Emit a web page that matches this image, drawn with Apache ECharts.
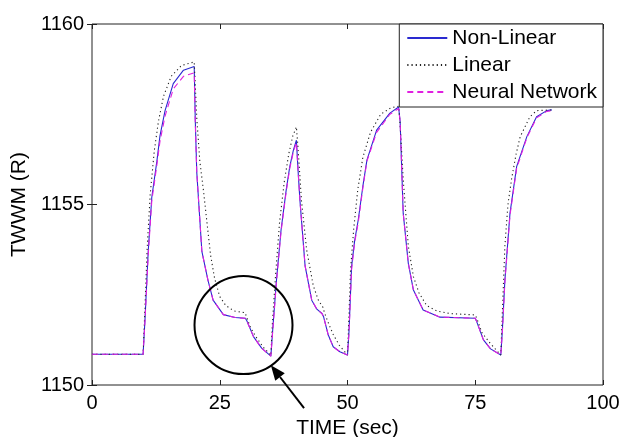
<!DOCTYPE html>
<html>
<head>
<meta charset="utf-8">
<script src="https://cdn.jsdelivr.net/npm/echarts@6/dist/echarts.min.js"></script>
<style>
html,body{margin:0;padding:0;background:#fff;}
#chart{width:624px;height:437px;}
</style>
</head>
<body>
<div id="chart"></div>
<script>
// ---- data ----
const seriesNames = ['Non-Linear', 'Linear', 'Neural Network'];
const xTicks = [0, 25, 50, 75, 100];
const yTicks = [1150, 1155, 1160];

const timeNonLinear = [0, 10, 10.4, 11.0, 11.7, 12.7, 13.3, 14.3, 15.9, 17.9, 20, 20.2, 20.5, 21.5, 22.7, 23.7, 25.7, 28, 30, 30.3, 31.6, 33.2, 35, 35.4, 36.1, 37, 38, 38.7, 39.4, 40, 40.3, 40.7, 41.7, 43.0, 44, 45, 45.3, 46.2, 47.2, 48.5, 50, 50.3, 50.8, 51.4, 52.1, 53.0, 53.8, 55.7, 58.3, 60, 60.3, 60.9, 61.9, 62.9, 64.8, 68.1, 75, 75.3, 76.6, 78, 80, 80.3, 80.8, 81.8, 83.1, 85.1, 87, 89, 90];
const nonLinear = [1150.85, 1150.85, 1151.9, 1153.7, 1155.2, 1156.2, 1156.9, 1157.6, 1158.35, 1158.72, 1158.82, 1157.4, 1155.9, 1153.7, 1152.9, 1152.35, 1151.95, 1151.87, 1151.85, 1151.78, 1151.34, 1151.02, 1150.8, 1151.6, 1152.9, 1154.3, 1155.4, 1156.05, 1156.5, 1156.78, 1156.0, 1155.1, 1153.3, 1152.35, 1152.1, 1151.98, 1151.9, 1151.4, 1151.06, 1150.92, 1150.83, 1151.5, 1153.28, 1154.0, 1154.57, 1155.5, 1156.23, 1157.06, 1157.53, 1157.7, 1157.3, 1154.76, 1153.37, 1152.63, 1152.08, 1151.88, 1151.85, 1151.75, 1151.25, 1151.0, 1150.83, 1151.5, 1152.9, 1154.76, 1156.05, 1156.88, 1157.43, 1157.6, 1157.62];

const timeNeural = timeNonLinear;
const neural = [1150.85, 1150.85, 1151.85, 1153.6, 1155.1, 1156.1, 1156.75, 1157.45, 1158.2, 1158.55, 1158.65, 1157.3, 1155.9, 1153.7, 1152.9, 1152.35, 1151.95, 1151.87, 1151.85, 1151.78, 1151.34, 1151.02, 1150.8, 1151.55, 1152.85, 1154.25, 1155.35, 1156.0, 1156.45, 1156.72, 1156.0, 1155.1, 1153.3, 1152.35, 1152.1, 1151.98, 1151.9, 1151.4, 1151.06, 1150.92, 1150.83, 1151.45, 1153.2, 1153.95, 1154.5, 1155.45, 1156.2, 1157.0, 1157.5, 1157.66, 1157.3, 1154.76, 1153.37, 1152.63, 1152.08, 1151.88, 1151.85, 1151.75, 1151.25, 1151.0, 1150.83, 1151.45, 1152.85, 1154.7, 1156.0, 1156.85, 1157.4, 1157.58, 1157.6];

const timeLinear = [0, 10, 10.3, 10.8, 11.4, 12.2, 13.0, 14.0, 15.5, 17.5, 20, 20.15, 20.5, 21.1, 21.8, 22.5, 23.2, 24.0, 25.0, 26.2, 27.8, 30, 30.2, 31.0, 32.0, 33.5, 35, 35.3, 35.9, 36.7, 37.6, 38.5, 39.3, 40, 40.3, 41.0, 42.0, 43.3, 44.3, 45.2, 45.5, 46.3, 47.2, 48.4, 50, 50.3, 50.6, 51.2, 52.0, 53.0, 54.5, 56.5, 58.5, 60, 60.3, 60.9, 61.9, 62.9, 64.0, 65.5, 67.5, 70, 75, 75.3, 76.3, 77.9, 80, 80.3, 80.8, 81.4, 82.1, 83.0, 83.8, 85.7, 87.0, 90];
const linear = [1150.85, 1150.85, 1151.9, 1153.8, 1155.3, 1156.5, 1157.3, 1158.0, 1158.55, 1158.85, 1158.95, 1158.5, 1157.4, 1156.2, 1155.4, 1154.5, 1153.6, 1152.95, 1152.45, 1152.2, 1152.05, 1152.0, 1151.9, 1151.6, 1151.35, 1151.05, 1150.82, 1151.7, 1153.0, 1154.5, 1155.6, 1156.4, 1156.9, 1157.15, 1156.6, 1155.1, 1153.75, 1152.75, 1152.35, 1152.15, 1152.0, 1151.7, 1151.4, 1151.1, 1150.83, 1152.0, 1153.2, 1154.3, 1155.4, 1156.3, 1157.0, 1157.5, 1157.68, 1157.72, 1157.2, 1155.7, 1153.85, 1153.0, 1152.55, 1152.2, 1152.05, 1151.98, 1151.94, 1151.85, 1151.45, 1151.16, 1150.83, 1152.0, 1153.85, 1155.0, 1155.7, 1156.4, 1156.88, 1157.43, 1157.6, 1157.62];

// annotation anchors (data coords)
const circleCenter = [29.65, 1151.66];
const arrowTip = [35.0, 1150.55];
const arrowTail = [41.5, 1149.36];

// ---- chart ----
const FONT = 'Liberation Sans, Arial, sans-serif';
const zip = (t, v) => t.map((x, i) => [x, v[i]]);
const chart = echarts.init(document.getElementById('chart'), null, {renderer: 'canvas'});

const tickStyle = {show: true, inside: true, length: 5, lineStyle: {color: '#222'}};
const option = {
  animation: false,
  backgroundColor: '#fff',
  grid: {left: 92, right: 21, top: 24, bottom: 52, show: true, borderColor: '#222', borderWidth: 1,
         backgroundColor: '#fff', containLabel: false, outerBoundsMode: 'none'},
  legend: {
    orient: 'vertical', right: 21, top: 24,
    data: seriesNames,
    backgroundColor: '#fff', borderColor: '#222', borderWidth: 1, borderRadius: 0,
    padding: [3, 6, 4, 7], itemGap: 5, itemWidth: 40, itemHeight: 14,
    itemStyle: {opacity: 0},
    textStyle: {fontFamily: FONT, fontSize: 21, color: '#000', lineHeight: 22},
    selectedMode: false
  },
  xAxis: [
    {type: 'value', min: 0, max: 100, interval: 25, position: 'bottom',
     axisLine: {show: false}, splitLine: {show: false}, axisTick: tickStyle,
     axisLabel: {fontFamily: FONT, fontSize: 20, color: '#000', margin: 8,
       formatter: v => xTicks.includes(v) ? String(v) : ''},
     name: 'TIME (sec)', nameLocation: 'middle', nameGap: 26,
     nameTextStyle: {fontFamily: FONT, fontSize: 21, color: '#000'}},
    {type: 'value', min: 0, max: 100, interval: 25, position: 'top',
     axisLine: {show: false}, splitLine: {show: false}, axisLabel: {show: false}, axisTick: tickStyle}
  ],
  yAxis: [
    {type: 'value', min: 1150, max: 1160, interval: 5, position: 'left',
     axisLine: {show: false}, splitLine: {show: false}, axisTick: tickStyle,
     axisLabel: {fontFamily: FONT, fontSize: 20, color: '#000', margin: 8,
       formatter: v => yTicks.includes(v) ? String(v) : ''},
     name: 'TWWM (R)', nameLocation: 'middle', nameGap: 58, nameRotate: 90,
     nameTextStyle: {fontFamily: FONT, fontSize: 21, color: '#000'}},
    {type: 'value', min: 1150, max: 1160, interval: 5, position: 'right',
     axisLine: {show: false}, splitLine: {show: false}, axisLabel: {show: false}, axisTick: tickStyle}
  ],
  series: [
    {name: seriesNames[0], type: 'line', data: zip(timeNonLinear, nonLinear), showSymbol: false, symbol: 'none',
     lineStyle: {color: '#2a2ad0', width: 1.1, type: 'solid'}, itemStyle: {color: '#2a2ad0'}, z: 2},
    {name: seriesNames[1], type: 'line', data: zip(timeLinear, linear), showSymbol: false, symbol: 'none',
     lineStyle: {color: '#222', width: 1.1, type: [1.2, 3]}, itemStyle: {color: '#222'}, z: 3},
    {name: seriesNames[2], type: 'line', data: zip(timeNeural, neural), showSymbol: false, symbol: 'none',
     lineStyle: {color: '#e020e0', width: 1.1, type: [6, 4]}, itemStyle: {color: '#e020e0'}, z: 4}
  ]
};
chart.setOption(option);

function drawAnnotations() {
  const c = chart.convertToPixel({gridIndex: 0}, circleCenter);
  const tip = chart.convertToPixel({gridIndex: 0}, arrowTip);
  const tail = chart.convertToPixel({gridIndex: 0}, arrowTail);
  const dx = tip[0] - tail[0], dy = tip[1] - tail[1];
  const len = Math.sqrt(dx * dx + dy * dy);
  const ux = dx / len, uy = dy / len;
  const headLen = 15, headW = 6;
  const bx = tip[0] - ux * headLen, by = tip[1] - uy * headLen;
  const px = -uy, py = ux;
  chart.setOption({
    graphic: [
      {type: 'circle', shape: {cx: c[0], cy: c[1], r: 49}, style: {fill: 'none', stroke: '#000', lineWidth: 2}, z: 100},
      {type: 'line', shape: {x1: tail[0], y1: tail[1], x2: bx, y2: by}, style: {stroke: '#000', lineWidth: 2}, z: 100},
      {type: 'polygon', shape: {points: [[tip[0], tip[1]], [bx + px * headW, by + py * headW], [bx - px * headW, by - py * headW]]},
       style: {fill: '#000'}, z: 100}
    ]
  });
}
drawAnnotations();
</script>
</body>
</html>
